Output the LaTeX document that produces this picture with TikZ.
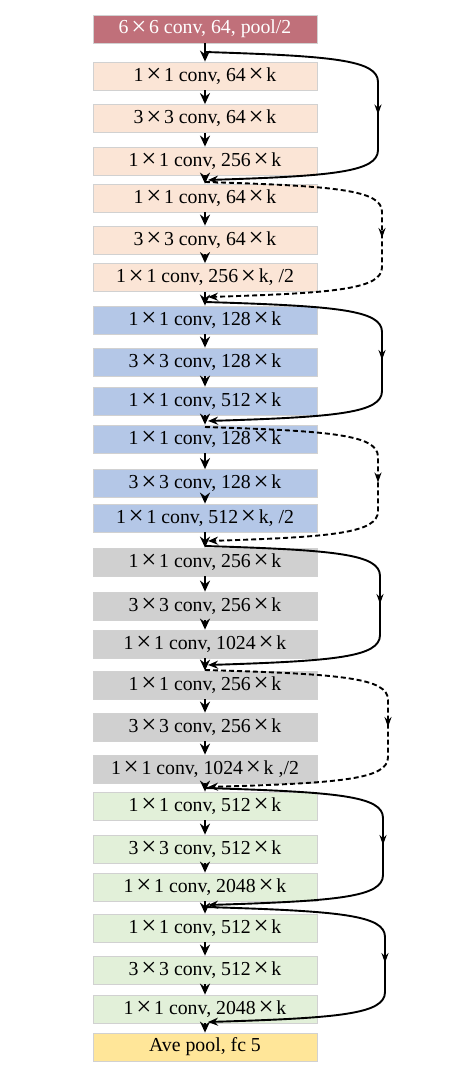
\documentclass[tikz,border=0pt]{standalone}
\usepackage{fontspec}
\setmainfont{Liberation Serif}
\usetikzlibrary{arrows.meta,calc,decorations.markings}
\definecolor{rose}{RGB}{192,112,122}
\definecolor{peach}{RGB}{251,229,214}
\definecolor{lblue}{RGB}{180,199,231}
\definecolor{lgray}{RGB}{208,208,208}
\definecolor{lgreen}{RGB}{226,240,217}
\definecolor{lyellow}{RGB}{255,230,153}
\newcommand\X{\kern0.14em\raisebox{-0.07em}{\scalebox{1.35}{×}}\kern0.14em}
\tikzset{
  layer/.style={minimum width=224pt, minimum height=28pt, inner sep=0pt,
    draw=black!18, line width=0.8pt, font=\fontsize{19.8}{19.8}\selectfont},
  mainarrow/.style={line width=2.8pt, -{Stealth[length=11pt,width=10pt]}},
  skipline/.style={line width=1.9pt, -{Stealth[length=10pt,width=8pt]},
    postaction={decorate},
    decoration={markings, mark=at position 0.5 with {\arrow{Stealth[length=10pt,width=7pt]}}}},
  skipdash/.style={skipline, dash pattern=on 5pt off 3pt},
}
\newcommand\resconn[4]{%
  \draw[#1] (#2) .. controls ($(#4|-#2)+(-45,4)$) and ($(#4|-#2)+(0,8)$) .. ($(#4|-#2)+(0,30)$)
    -- ($(#4|-#3)+(0,-30)$) .. controls ($(#4|-#3)+(0,-8)$) and ($(#4|-#3)+(-45,-4)$) .. (#3);}
\begin{document}
\begin{tikzpicture}[x=1pt,y=-1pt]
\useasboundingbox (0,0) rectangle (448,1091);
\node[layer, fill=rose, text=white] (b1) at (205,29) {6\X6 conv, 64, pool/2};
\node[layer, fill=peach] (b2) at (205,76) {1\X1 conv, 64\X k};
\node[layer, fill=peach] (b3) at (205,118.5) {3\X3 conv, 64\X k};
\node[layer, fill=peach] (b4) at (205,161) {1\X1 conv, 256\X k};
\node[layer, fill=peach] (b5) at (205,198) {1\X1 conv, 64\X k};
\node[layer, fill=peach] (b6) at (205,240) {3\X3 conv, 64\X k};
\node[layer, fill=peach] (b7) at (205,277.5) {1\X1 conv, 256\X k, /2};
\node[layer, fill=lblue] (b8) at (205,320) {1\X1 conv, 128\X k};
\node[layer, fill=lblue] (b9) at (205,362) {3\X3 conv, 128\X k};
\node[layer, fill=lblue] (b10) at (205,401) {1\X1 conv, 512\X k};
\node[layer, fill=lblue] (b11) at (205,439) {1\X1 conv, 128\X k};
\node[layer, fill=lblue] (b12) at (205,483.5) {3\X3 conv, 128\X k};
\node[layer, fill=lblue] (b13) at (205,518) {1\X1 conv, 512\X k, /2};
\node[layer, fill=lgray] (b14) at (205,562) {1\X1 conv, 256\X k};
\node[layer, fill=lgray] (b15) at (205,606) {3\X3 conv, 256\X k};
\node[layer, fill=lgray] (b16) at (205,644) {1\X1 conv, 1024\X k};
\node[layer, fill=lgray] (b17) at (205,685) {1\X1 conv, 256\X k};
\node[layer, fill=lgray] (b18) at (205,727) {3\X3 conv, 256\X k};
\node[layer, fill=lgray] (b19) at (205,769) {1\X1 conv, 1024\X k ,/2};
\node[layer, fill=lgreen] (b20) at (205,806) {1\X1 conv, 512\X k};
\node[layer, fill=lgreen] (b21) at (205,849) {3\X3 conv, 512\X k};
\node[layer, fill=lgreen] (b22) at (205,887) {1\X1 conv, 2048\X k};
\node[layer, fill=lgreen] (b23) at (205,928) {1\X1 conv, 512\X k};
\node[layer, fill=lgreen] (b24) at (205,970) {3\X3 conv, 512\X k};
\node[layer, fill=lgreen] (b25) at (205,1009) {1\X1 conv, 2048\X k};
\node[layer, fill=lyellow] (b26) at (205,1047) {Ave pool, fc 5};
\foreach \i [evaluate=\i as \j using int(\i+1)] in {1,...,25}
  \draw[mainarrow] (b\i.south) -- (b\j.north);
% skip connections
\coordinate (s1) at (205,52);  \coordinate (e1) at (208,180);  \coordinate (r1) at (378,0);
\coordinate (s2) at (205,182); \coordinate (e2) at (208,297);  \coordinate (r2) at (382,0);
\coordinate (s3) at (205,302); \coordinate (e3) at (208,421);  \coordinate (r3) at (382,0);
\coordinate (s4) at (205,427); \coordinate (e4) at (208,541);  \coordinate (r4) at (378,0);
\coordinate (s5) at (205,546); \coordinate (e5) at (208,665);  \coordinate (r5) at (380,0);
\coordinate (s6) at (205,670); \coordinate (e6) at (208,787);  \coordinate (r6) at (388,0);
\coordinate (s7) at (205,788); \coordinate (e7) at (208,905);  \coordinate (r7) at (383,0);
\coordinate (s8) at (205,907); \coordinate (e8) at (208,1022); \coordinate (r8) at (385,0);
\resconn{skipline}{s1}{e1}{r1}
\resconn{skipdash}{s2}{e2}{r2}
\resconn{skipline}{s3}{e3}{r3}
\resconn{skipdash}{s4}{e4}{r4}
\resconn{skipline}{s5}{e5}{r5}
\resconn{skipdash}{s6}{e6}{r6}
\resconn{skipline}{s7}{e7}{r7}
\resconn{skipline}{s8}{e8}{r8}
\end{tikzpicture}
\end{document}
